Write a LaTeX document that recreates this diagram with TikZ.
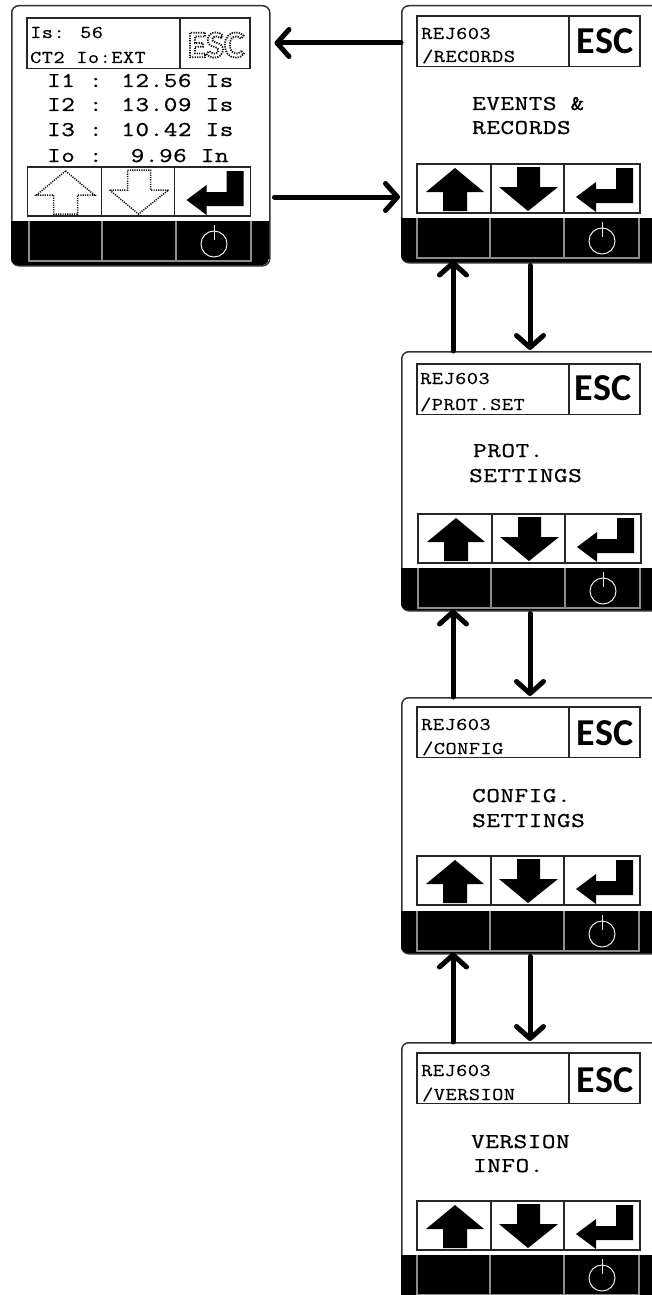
\documentclass[tikz,border=0pt]{standalone}
\usepackage{fontspec}
\usetikzlibrary{arrows.meta}
\newfontfamily\lcdmain[FakeStretch=1.25,LetterSpace=3,FakeBold=0.9]{Latin Modern Mono}
\newfontfamily\lcdhead[FakeStretch=1.2,LetterSpace=3,FakeBold=0.5]{Latin Modern Mono}
\newfontfamily\esckey{Carlito}
\newcommand{\dotstart}{\special{pdf:code 1 Tr 1.8 w [1.3 1.1] 0 d 0.1 0.1 0.1 RG}}
\newcommand{\dotstop}{\special{pdf:code 0 Tr [] 0 d 0 0 0 RG}}
\tikzset{
  body/.style={draw=black!80,line width=1.5pt,rounded corners=7pt,fill=white,inner sep=0,anchor=north west},
  frame/.style={draw=black!85,line width=1.3pt,fill=none},
  cell/.style={draw=black!45,line width=1.3pt},
  solidglyph/.style={fill=black},
  dotglyph/.style={draw=black!90,line width=1.5pt,dash pattern=on 1.2pt off 1.1pt},
  powerkey/.style={draw=black!8,line width=1pt},
  conn/.style={line width=5pt,line cap=round,-{Straight Barb[length=12pt,width=27pt,line width=5pt,round]}},
  headtxt/.style={font=\lcdhead\fontsize{18}{18}\selectfont,anchor=base west,inner sep=0},
  maintxt/.style={font=\lcdmain\fontsize{21}{21}\selectfont,anchor=base west,inner sep=0},
  esctxt/.style={font=\esckey\bfseries\fontsize{38}{38}\selectfont,anchor=center,inner sep=0}
}
% #1 name, #2 left x, #3 width, #4 top, #5 height, #6 first-cell x, #7 bar top
\newcommand{\bodyshape}[7]{%
  \node[body,minimum width=#3pt,minimum height=#5pt] (#1) at (#2,#4) {};
  \begin{scope}
    \clip[rounded corners=7pt] (#2,#4) rectangle ++(#3,#5);
    \fill[black] (#2,#7) rectangle ++(#3,#5);
    \draw[cell] (#6,#7) -- ++(0,40) -- ++(222,0) -- ++(0,-40);
    \draw[cell] (#6+73,#7) -- ++(0,40) (#6+147,#7) -- ++(0,40);
    \draw[powerkey] (#6+185,#7+23) circle[radius=13];
    \draw[powerkey] (#6+185,#7+4) -- ++(0,15);
  \end{scope}
}
% #1 left x, #2 top, #3 divider
\newcommand{\headbox}[3]{\draw[frame] (#1,#2) rectangle ++(223,50.5) (#1+#3,#2) -- ++(0,50.5);}
% #1 left x, #2 top, #3 arrow style
\newcommand{\buttons}[3]{%
  \begin{scope}[shift={(#1,#2)}]
    \draw[frame] (0,0) rectangle (223,49) (74,0) -- (74,49) (147,0) -- (147,49);
    \path[#3] (38,4) -- (67,28) -- (50,28) -- (50,47) -- (26,47) -- (26,28) -- (9,28) -- cycle;
    \path[#3] (100,3) -- (123,3) -- (123,23) -- (141,23) -- (111,47) -- (82,23) -- (100,23) -- cycle;
    \path[solidglyph] (159,33) -- (179,18) -- (179,25) -- (199,25) -- (199,4) -- (216,4) -- (216,39) -- (179,39) -- (179,48) -- cycle;
  \end{scope}
}
\begin{document}
\begin{tikzpicture}[x=1pt,y=-1pt]
\useasboundingbox (0,0) rectangle (651,1295);
\fill[white] (0,0) rectangle (651,1295);
% status panel
\bodyshape{status}{11}{258}{5}{260}{29}{221}
\headbox{27}{18}{153}
\buttons{27.5}{167}{dotglyph}
\node[headtxt] (sa) at (30,38) {Is: 56};
\node[headtxt] (sb) at (30,63) {CT2 Io:EXT};
\node[esctxt] (sesc) at (216,45) {\dotstart ESC\dotstop};
\node[maintxt] (s1) at (47,87) {I1 : 12.56 Is};
\node[maintxt] (s2) at (47,111) {I2 : 13.09 Is};
\node[maintxt] (s3) at (47,136) {I3 : 10.42 Is};
\node[maintxt] (s4) at (47,162) {Io :~~9.96 In};
% records
\bodyshape{rec}{401}{270}{5}{257}{417}{218}
\headbox{417}{16}{152}
\buttons{417}{164}{solidglyph}
\node[headtxt] (ra) at (421,39) {REJ603};
\node[headtxt] (rb) at (422,62) {/RECORDS};
\node[esctxt] (resc) at (605,41) {ESC};
\node[maintxt] (rc) at (472,110) {EVENTS \&};
\node[maintxt] (rd) at (472,134) {RECORDS};
% protection
\bodyshape{prot}{401}{270}{351}{259}{418}{568}
\headbox{417}{364}{152}
\buttons{418}{514}{solidglyph}
\node[headtxt] (pa) at (420,384) {REJ603};
\node[headtxt] (pb) at (420,410) {/PROT.SET};
\node[esctxt] (pesc) at (603,388) {ESC};
\node[maintxt] (pc) at (473,457) {PROT.};
\node[maintxt] (pd) at (469,482) {SETTINGS};
% config
\bodyshape{conf}{401}{270}{697}{256}{417}{911}
\headbox{417}{707}{152}
\buttons{417}{856}{solidglyph}
\node[headtxt] (ca) at (421,730) {REJ603};
\node[headtxt] (cb) at (422,754) {/CONFIG};
\node[esctxt] (cesc) at (605,733) {ESC};
\node[maintxt] (cc) at (472,802) {CONFIG.};
\node[maintxt] (cd) at (472,827) {SETTINGS};
% version
\bodyshape{ver}{401}{270}{1042}{262}{417}{1255}
\headbox{417}{1053}{152}
\buttons{417}{1201}{solidglyph}
\node[headtxt] (va) at (421,1076) {REJ603};
\node[headtxt] (vb) at (422,1100) {/VERSION};
\node[esctxt] (vesc) at (605,1080) {ESC};
\node[maintxt] (vc) at (471,1148) {VERSION};
\node[maintxt] (vd) at (473,1172) {INFO.};
% connectors
\coordinate (upx) at (453,0);
\coordinate (dnx) at (530,0);
\coordinate (ya) at (0,43);
\coordinate (yb) at (0,197);
\draw[conn] (rec.west |- ya) -- ([xshift=4pt]status.east |- ya);
\draw[conn] ([xshift=4pt]status.east |- yb) -- ([xshift=-1pt]rec.west |- yb);
\draw[conn] (upx |- prot.north) -- ([yshift=3pt]upx |- rec.south);
\draw[conn] ([yshift=-2pt]dnx |- rec.south) -- ([yshift=1pt]dnx |- prot.north);
\draw[conn] (upx |- conf.north) -- ([yshift=2pt]upx |- prot.south);
\draw[conn] ([yshift=-2pt]dnx |- prot.south) -- ([yshift=1pt]dnx |- conf.north);
\draw[conn] (upx |- ver.north) -- ([yshift=2pt]upx |- conf.south);
\draw[conn] ([yshift=-2pt]dnx |- conf.south) -- ([yshift=1pt]dnx |- ver.north);
\end{tikzpicture}
\end{document}
